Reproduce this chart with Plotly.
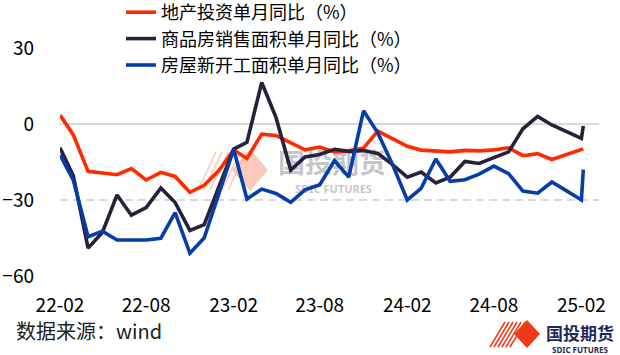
import plotly.graph_objects as go
import pandas as pd

# ---------------- data ----------------
DATES = [d.strftime("%Y-%m-%d") for d in pd.date_range("2022-02-01", periods=37, freq="MS")] + ["2025-02-05"]
TICK_DATES = DATES[0:37:6]
TICK_TEXT = ["22-02", "22-08", "23-02", "23-08", "24-02", "24-08", "25-02"]

NAMES = ["地产投资单月同比（%）", "商品房销售面积单月同比（%）", "房屋新开工面积单月同比（%）"]

INVEST = [3.5, -4.3, -18.7, -19.3, -20.0, -17.6, -22.1, -19.1, -20.7, -27.0,
          -24.2, -18.4, -10.2, -13.6, -4.0, -4.5, -7.2, -10.2, -9.1, -11.0,
          -10.6, -9.5, -2.8, -6.0, -8.8, -10.3, -10.7, -11.0, -10.4, -10.6,
          -10.2, -9.4, -12.5, -11.7, -14.0, -12.0, -10.0, -9.8]
SALES = [-9.4, -20.5, -49.0, -42.8, -28.0, -36.0, -33.0, -25.3, -31.0, -42.0,
         -39.7, -25.0, -9.9, -7.2, 16.4, 2.6, -18.2, -13.0, -12.0, -10.0,
         -10.8, -10.5, -11.6, -16.0, -21.0, -19.0, -23.3, -21.0, -14.8, -15.6,
         -13.2, -11.0, -1.9, 3.0, -0.4, -3.0, -5.7, -0.8]
STARTS = [-12.2, -22.2, -44.5, -42.3, -45.8, -45.8, -45.8, -45.1, -35.0, -51.0,
          -45.0, -27.5, -10.0, -29.6, -25.7, -27.4, -30.9, -26.0, -24.0, -14.4,
          -21.0, 5.2, -3.5, -16.0, -30.0, -25.4, -13.8, -22.6, -22.0, -19.8,
          -16.6, -19.6, -26.5, -27.3, -22.9, -26.4, -30.0, -18.0]

Y_TICKS = [-60, -30, 0, 30]
COLORS = ["#FF2A00", "#27223C", "#063DA6"]

# ---------------- geometry ----------------
W, H = 620, 355
PLOT_L, PLOT_R, PLOT_T, PLOT_B = 60, 599, 48, 276
L, R, T, B = PLOT_L, W - PLOT_R, PLOT_T, H - PLOT_B
PW, PH = W - L - R, H - T - B


def px(x):
    """pixel x -> paper x"""
    return (x - PLOT_L) / PW


def py(y):
    """pixel y -> paper y"""
    return (PLOT_B - y) / PH


fig = go.Figure()
for name, vals, color in zip(NAMES, [INVEST, SALES, STARTS], COLORS):
    fig.add_trace(go.Scatter(x=DATES, y=vals, mode="lines", name=name,
                             line=dict(color=color, width=3.6)))

TICKFONT = dict(family="Noto Sans CJK SC, Noto Sans, sans-serif", size=19, color="#000000")

shapes = []
annotations = []

# watermark (below the traces)
wm_pink = "rgba(250,165,145,0.6)"
cx, cy, hw, hh = 250, 170, 18, 21
shapes.append(dict(type="path", xref="paper", yref="paper", layer="below",
                   path=f"M{px(cx-hw)},{py(cy)} L{px(cx)},{py(cy-hh)} L{px(cx+hw)},{py(cy)} L{px(cx)},{py(cy+hh)} Z",
                   fillcolor=wm_pink, line=dict(width=0)))
for k in range(6):
    x0 = 198 + k * 6
    shapes.append(dict(type="line", xref="paper", yref="paper", layer="below",
                       x0=px(x0), y0=py(190), x1=px(x0 + 18), y1=py(152),
                       line=dict(color=wm_pink, width=1.6)))
shapes.append(dict(type="rect", xref="paper", yref="paper", layer="below",
                   x0=px(272), x1=px(392), y0=py(180), y1=py(150),
                   line=dict(width=0), fillcolor="rgba(0,0,0,0)",
                   label=dict(text="<b>国投期货</b>", textposition="middle center",
                              font=dict(family="Noto Sans CJK SC", size=27, color="rgba(140,140,150,0.5)"))))
shapes.append(dict(type="rect", xref="paper", yref="paper", layer="below",
                   x0=px(275), x1=px(392), y0=py(195), y1=py(183),
                   line=dict(width=0), fillcolor="rgba(0,0,0,0)",
                   label=dict(text="<b>SDIC FUTURES</b>", textposition="middle center",
                              font=dict(family="Noto Sans", size=11, color="rgba(140,140,150,0.5)"))))

# bottom-right logo
logo_red = "#F03A17"
cx, cy, hw, hh = 527, 334, 13, 14
shapes.append(dict(type="path", xref="paper", yref="paper",
                   path=f"M{px(cx-hw)},{py(cy)} L{px(cx)},{py(cy-hh)} L{px(cx+hw)},{py(cy)} L{px(cx)},{py(cy+hh)} Z",
                   fillcolor=logo_red, line=dict(width=0)))
for k in range(6):
    x0 = 490 + k * 4
    shapes.append(dict(type="line", xref="paper", yref="paper",
                       x0=px(x0), y0=py(347), x1=px(x0 + 15), y1=py(322),
                       line=dict(color=logo_red, width=1.5)))
annotations.append(dict(text="<b>国投期货</b>", xref="paper", yref="paper",
                        x=px(580), y=py(332), xanchor="center", yanchor="middle", showarrow=False,
                        font=dict(family="Noto Sans CJK SC", size=17, color="#1E2A5E")))
annotations.append(dict(text="<b>SDIC FUTURES</b>", xref="paper", yref="paper",
                        x=px(580), y=py(349), xanchor="center", yanchor="middle", showarrow=False,
                        font=dict(family="Noto Sans", size=8, color="#1E2A5E")))

# source
annotations.append(dict(text="数据来源：wind", xref="paper", yref="paper",
                        x=px(14), y=py(330), xanchor="left", yanchor="middle", showarrow=False,
                        font=dict(family="Noto Sans CJK SC", size=20, color="#222222")))

fig.update_layout(
    width=W, height=H,
    margin=dict(l=L, r=R, t=T, b=B, pad=0, autoexpand=False),
    paper_bgcolor="white", plot_bgcolor="white",
    showlegend=True,
    legend=dict(x=px(121), y=py(-6), xanchor="left", yanchor="top",
                bgcolor="rgba(0,0,0,0)", borderwidth=0, tracegroupgap=0,
                font=dict(family="Noto Sans CJK SC", size=18, color="#000000")),
    xaxis=dict(type="date", range=["2022-02-01", "2025-03-10"], automargin=False,
               tickmode="array", tickvals=TICK_DATES, ticktext=TICK_TEXT,
               showgrid=False, zeroline=False, showline=False, ticks="",
               tickfont=TICKFONT, ticklabelstandoff=16),
    yaxis=dict(range=[-60, 30], tickmode="array", tickvals=Y_TICKS, automargin=False,
               showgrid=True, gridcolor="#d9d9d9", gridwidth=2, griddash="8px,5px",
               zeroline=True, zerolinecolor="#d9d9d9", zerolinewidth=2,
               showline=False, ticks="", tickfont=TICKFONT, ticklabelstandoff=25),
    shapes=shapes,
    annotations=annotations,
)

# remove the browser's default 8px page margin so the figure fills the window
fig.write_html("out.html", config={"displayModeBar": False},
               post_script="document.body.style.margin='0';document.body.style.overflow='hidden';")
